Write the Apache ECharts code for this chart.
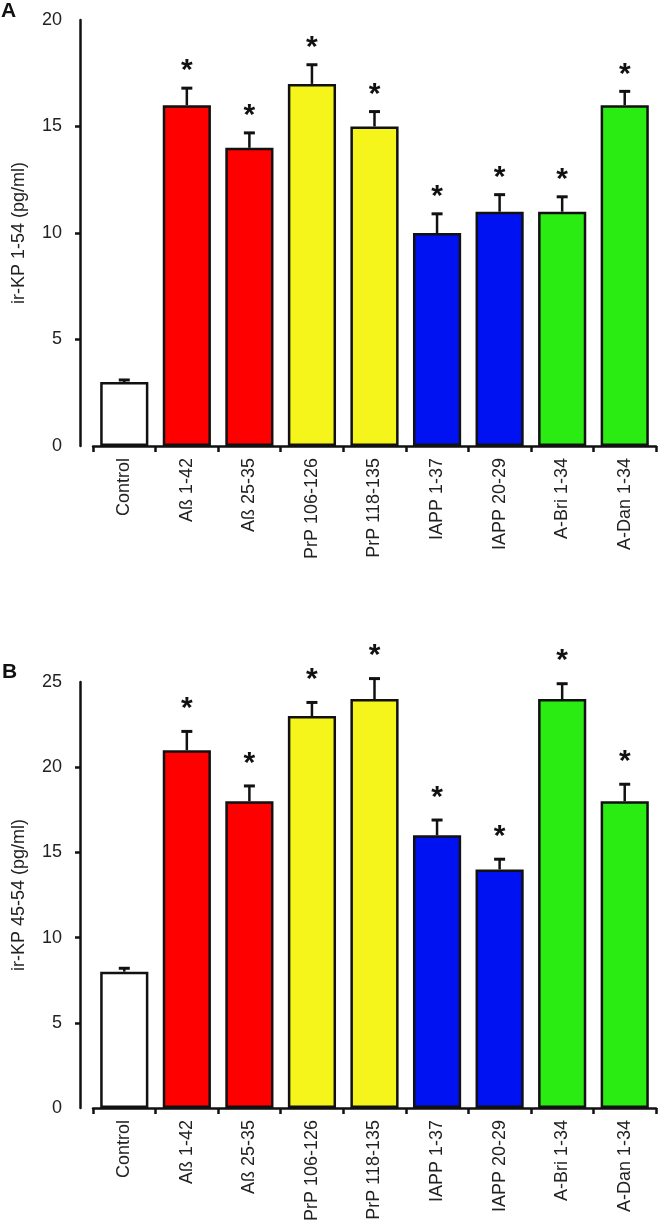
<!DOCTYPE html>
<html>
<head>
<meta charset="utf-8">
<script src="https://cdn.jsdelivr.net/npm/echarts@6/dist/echarts.min.js"></script>
<style>
html,body{margin:0;padding:0;background:#fff;}
#c{width:658px;height:1227px;}
</style>
</head>
<body>
<div id="c"></div>
<script>
const categories = ['Control','Aß 1-42','Aß 25-35','PrP 106-126','PrP 118-135','IAPP 1-37','IAPP 20-29','A-Bri 1-34','A-Dan 1-34'];
const barColors = ['#ffffff','#ff0000','#ff0000','#f6f51b','#f6f51b','#0012f2','#0012f2','#2aec12','#2aec12'];
const significant = [false,true,true,true,true,true,true,true,true];
const valuesA = [3,16,14,17,15,10,11,11,16];
const errorsA = [0.1,0.8,0.7,0.9,0.7,0.9,0.8,0.7,0.65];
const valuesB = [8,21,18,23,24,16,14,24,18];
const errorsB = [0.2,1.1,0.9,0.8,1.2,0.9,0.6,0.9,1.0];
const yTicksA = [0,5,10,15,20];
const yTicksB = [0,5,10,15,20,25];
const yNameA = 'ir-KP 1-54 (pg/ml)';
const yNameB = 'ir-KP 45-54 (pg/ml)';

const FONT = "'Liberation Sans', Arial, sans-serif";
const chart = echarts.init(document.getElementById('c'), null, {renderer:'canvas'});

function xAxisFor(gi){
  return {
    type:'category', gridIndex:gi, data:categories,
    axisLine:{lineStyle:{color:'#111',width:2.5}},
    axisTick:{show:true,length:6,lineStyle:{color:'#111',width:2.5}},
    axisLabel:{rotate:90,margin:12,fontSize:18,fontFamily:FONT,color:'#222'}
  };
}
function yAxesFor(gi, ticks, name){
  const mx = ticks[ticks.length-1];
  return [{
    type:'value', gridIndex:gi, min:0, max:mx, interval:5, offset:13,
    name:name, nameLocation:'middle', nameGap:52, nameRotate:90,
    nameTextStyle:{fontSize:18,fontFamily:FONT,color:'#222'},
    axisLine:{show:true,lineStyle:{color:'#111',width:2.5}},
    axisTick:{show:true,length:5,lineStyle:{color:'#111',width:2.5},customValues:ticks.slice(1,-1)},
    axisLabel:{margin:18,fontSize:18,fontFamily:FONT,color:'#222'},
    splitLine:{show:false}
  },{
    type:'value', gridIndex:gi, min:0, max:mx, interval:5, offset:13,
    axisLine:{show:false},
    axisTick:{show:true,inside:true,length:7,lineStyle:{color:'#111',width:2.5},customValues:[0,mx]},
    axisLabel:{show:false},
    splitLine:{show:false}
  }];
}
function barSeries(idx, vals){
  return {
    type:'bar', xAxisIndex:idx, yAxisIndex:idx*2, barWidth:'77%',
    data: vals.map((v,i)=>({value:v,itemStyle:{color:barColors[i]}})),
    itemStyle:{borderColor:'#111',borderWidth:2.5},
    z:2, silent:true
  };
}
function errSeries(idx, vals, errs, starGap){
  return {
    type:'custom', xAxisIndex:idx, yAxisIndex:idx*2, z:3, silent:true,
    data: vals.map((v,i)=>[i, v, errs[i], significant[i]?1:0]),
    renderItem:function(params, api){
      const i = api.value(0), v = api.value(1), e = api.value(2), s = api.value(3);
      const p0 = api.coord([i, v]);
      const p1 = api.coord([i, v+e]);
      const children = [
        {type:'line', shape:{x1:p0[0],y1:p0[1],x2:p1[0],y2:p1[1]}, style:{stroke:'#111',lineWidth:2.5}},
        {type:'line', shape:{x1:p1[0]-5.5,y1:p1[1],x2:p1[0]+5.5,y2:p1[1]}, style:{stroke:'#111',lineWidth:3}}
      ];
      if (s) {
        children.push({type:'text', x:p1[0], y:p1[1]-starGap+6,
          style:{text:'*', fontSize:30, fontWeight:'bold', fontFamily:FONT, fill:'#111', align:'center', verticalAlign:'middle'}});
      }
      return {type:'group', children:children};
    }
  };
}

const option = {
  animation:false,
  backgroundColor:'#ffffff',
  grid:[
    {left:93, right:2, top:20, height:426},
    {left:93, right:2, top:682, height:426}
  ],
  xAxis:[xAxisFor(0), xAxisFor(1)],
  yAxis:[].concat(yAxesFor(0, yTicksA, yNameA), yAxesFor(1, yTicksB, yNameB)),
  graphic:[
    {type:'text', left:1, top:1, style:{text:'A', fontSize:21, fontWeight:'bold', fontFamily:FONT, fill:'#111'}},
    {type:'text', left:2, top:662, style:{text:'B', fontSize:21, fontWeight:'bold', fontFamily:FONT, fill:'#111'}}
  ],
  series:[
    barSeries(0, valuesA), errSeries(0, valuesA, errorsA, 23),
    barSeries(1, valuesB), errSeries(1, valuesB, errorsB, 28.5)
  ]
};
chart.setOption(option);
</script>
</body>
</html>
